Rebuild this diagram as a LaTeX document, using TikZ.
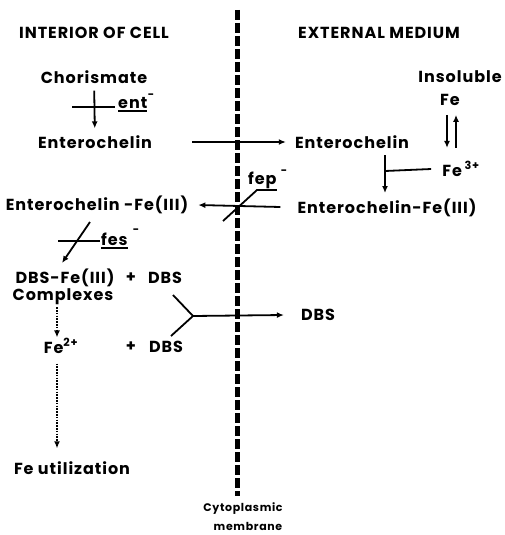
\documentclass[tikz,border=0pt]{standalone}
\usepackage{fontspec}
\setmainfont{Poppins}[LetterSpace=6]
\usetikzlibrary{arrows.meta}
\usetikzlibrary{calc}

\begin{document}
\begin{tikzpicture}[x=1pt,y=-1pt]
  \tikzset{lbl/.style = {font=\fontsize{16}{18}\selectfont\bfseries, inner sep=0pt}}
  \tikzset{tiny/.style = {font=\fontsize{11}{13}\selectfont\bfseries, inner sep=0pt}}
  \tikzset{bar/.style = {line width=1.8pt}}
  \tikzset{edge/.style = {line width=1.8pt,-{Latex[length=7pt,width=6pt]}}}
  \tikzset{dots/.style = {line width=1.8pt,dash pattern=on 1.6pt off 1.2pt,-{Latex[length=7pt,width=6pt]}}}
  \useasboundingbox (0,0) rectangle (505,535);

  % headings
  \node[lbl] (int) at (94,33) {INTERIOR OF CELL};
  \node[lbl] (ext) at (379,33) {EXTERNAL MEDIUM};

  % membrane
  \coordinate (mtop) at (237,10);
  \coordinate (mbot) at (237,496);
  \draw[line width=5pt, dash pattern=on 10pt off 3pt] (mtop) -- (mbot);
  \node[tiny] (cyto) at (243,509) {Cytoplasmic};
  \node[tiny] (memb) at (248,526) {membrane};

  % interior
  \node[lbl] (chor) at (94,77) {Chorismate};
  \node[lbl] (entL) at (95,142) {Enterochelin};
  \node[lbl] (entfeL) at (97,205) {Enterochelin -Fe(III)};
  \node[lbl] (dbsfe) at (65,278) {DBS-Fe(III)};
  \node[lbl] (plus1) at (131,278) {+};
  \node[lbl] (dbs1) at (165,278) {DBS};
  \node[lbl] (cplx) at (63,297) {Complexes};
  \node[lbl] (fe2) at (61,346) {Fe\textsuperscript{2+}};
  \node[lbl] (plus2) at (131,347) {+};
  \node[lbl] (dbs2) at (166,347) {DBS};
  \node[lbl] (feu) at (72,468) {Fe utilization};

  % exterior
  \node[lbl] (insol) at (460,77) {Insoluble};
  \node[lbl] (fe) at (450,100) {Fe};
  \node[lbl] (fe3) at (461,169) {Fe\,\textsuperscript{3+}};
  \node[lbl] (entR) at (352,142) {Enterochelin};
  \node[lbl] (entfeR) at (387,208) {Enterochelin-Fe(III)};
  \node[lbl] (dbsR) at (318,315) {DBS};

  % gene labels
  \node[lbl, anchor=base west] (entg) at (118,108) {ent};
  \node[tiny] (entm) at (151,96) {-};
  \node[lbl, anchor=base west] (fepg) at (248,184) {fep};
  \node[tiny] (fepm) at (284,172) {-};
  \node[lbl, anchor=base west] (fesg) at (101,245) {fes};
  \node[tiny] (fesm) at (136,231) {-};

  % ent block
  \coordinate (entbar) at (72,107);
  \draw[bar] (entbar) -- ++(43,0);
  \draw[bar] ([yshift=-3pt]entg.base west) -- ([yshift=-3pt]entg.base east);
  \draw[edge, shorten <=7pt, shorten >=7pt] (chor) -- (entL);

  % enterochelin out
  \draw[edge] ([xshift=40pt]entL.east) -- ([xshift=-9pt]entR.west);

  % iron
  \draw[edge] ($(fe.south)+(-3,9)$) -- ++(0,33);
  \draw[edge] ($(fe.south)+(6,42)$) -- ++(0,-33);
  \coordinate (jn) at (385,171);
  \draw[bar] ([xshift=-11pt]fe3.west) -- (jn);
  \coordinate (vt) at (385,155);
  \draw[edge] (vt) -- ($(vt)+(0,38)$);

  % fep uptake
  \draw[edge] ([xshift=-17pt,yshift=1pt]entfeR.west) -- ([xshift=10pt]entfeL.east);
  \coordinate (fepa) at (223,221);
  \coordinate (fepb) at (257,190);
  \draw[bar] (fepa) -- (fepb) -- (fepb -| fepg.east);

  % fes
  \coordinate (fesbar) at (58,241);
  \draw[bar] (fesbar) -- ++(42,0);
  \draw[bar] ([yshift=-3pt]fesg.base west) -- ([yshift=-3pt]fesg.base east);
  \coordinate (fest) at (90,222);
  \draw[edge] (fest) -- ($(fest)+(-28,41)$);

  % DBS out
  \coordinate (yj) at (193,316);
  \coordinate (yu) at (173,295);
  \coordinate (yl) at (171,336);
  \draw[bar] (yu) -- (yj) -- (yl);
  \draw[edge] (yj) -- ([xshift=-17pt]dbsR.west);

  % reduction and use
  \draw[dots] ([xshift=-6pt,yshift=-2pt]cplx.south) -- ([xshift=-4pt,yshift=1pt]fe2.north);
  \draw[dots] ([xshift=-4pt,yshift=-10pt]fe2.south) -- ([xshift=-15pt,yshift=13pt]feu.north);
\end{tikzpicture}
\end{document}
